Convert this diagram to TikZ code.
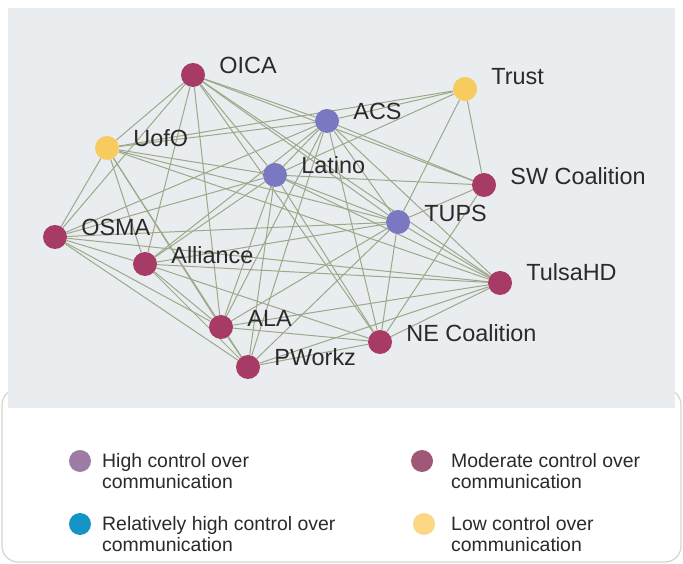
\documentclass[tikz,border=0pt]{standalone}
\usepackage{fontspec}
\setmainfont{Liberation Sans}
\usetikzlibrary{positioning}
\definecolor{bggrey}{HTML}{E9EDF0}
\definecolor{edgegreen}{HTML}{9DA889}
\definecolor{boxgrey}{HTML}{D3D6CE}
\definecolor{labelgrey}{HTML}{2A2A2A}
\definecolor{highctl}{HTML}{7A78C0}
\definecolor{modctl}{HTML}{A83A66}
\definecolor{lowctl}{HTML}{F8CB5E}
\definecolor{keyhigh}{HTML}{9C7BA5}
\definecolor{keymod}{HTML}{A15776}
\definecolor{keyrel}{HTML}{1594C7}
\definecolor{keylow}{HTML}{FDD785}
\pgfdeclarelayer{edges}
\pgfsetlayers{edges,main}
\tikzset{
  actor/.style={circle,minimum size=24bp,inner sep=0pt,draw=none,fill=#1},
  lbl/.style={font=\fontsize{23.5}{25}\selectfont,text=labelgrey,inner sep=0pt},
  tie/.style={edgegreen,line width=1bp},
  keydot/.style={circle,minimum size=22bp,inner sep=0pt,draw=none,fill=#1},
  keytext/.style={font=\fontsize{19.5}{21}\selectfont,text=labelgrey,align=left,inner sep=0pt,anchor=west},
}
\begin{document}
\begin{tikzpicture}[line join=bevel,label distance=14bp]
\useasboundingbox (0bp,0bp) rectangle (683bp,564bp);
%%
\node (oica) at (193bp,489bp) [actor=modctl,label={[lbl,yshift=10bp]east:OICA}] {};
  \node (trust) at (465bp,475bp) [actor=lowctl,label={[lbl,yshift=12bp]east:Trust}] {};
  \node (acs) at (327bp,443bp) [actor=highctl,label={[lbl,yshift=10bp]east:ACS}] {};
  \node (uofo) at (107bp,416bp) [actor=lowctl,label={[lbl,yshift=10bp]east:UofO}] {};
  \node (latino) at (275bp,389bp) [actor=highctl,label={[lbl,yshift=10bp]east:Latino}] {};
  \node (swc) at (484bp,379bp) [actor=modctl,label={[lbl,yshift=9bp]east:SW Coalition}] {};
  \node (tups) at (398bp,342bp) [actor=highctl,label={[lbl,yshift=9bp]east:TUPS}] {};
  \node (osma) at (55bp,327bp) [actor=modctl,label={[lbl,yshift=10bp]east:OSMA}] {};
  \node (alliance) at (145bp,300bp) [actor=modctl,label={[lbl,yshift=9bp]east:Alliance}] {};
  \node (tulsahd) at (500bp,281bp) [actor=modctl,label={[lbl,yshift=11bp]east:TulsaHD}] {};
  \node (ala) at (221bp,237bp) [actor=modctl,label={[lbl,yshift=9bp]east:ALA}] {};
  \node (nec) at (380bp,222bp) [actor=modctl,label={[lbl,yshift=9bp]east:NE Coalition}] {};
  \node (pworkz) at (248bp,197bp) [actor=modctl,label={[lbl,yshift=10bp]east:PWorkz}] {};
%
\begin{pgfonlayer}{edges}
  \draw [boxgrey,fill=white,line width=1.2bp,rounded corners=16bp] (2bp,2bp) rectangle (681bp,175bp);
  \fill [bggrey] (8bp,156bp) rectangle (675bp,556bp);
  \draw [tie] (oica) -- (uofo);
  \draw [tie] (oica) -- (osma);
  \draw [tie] (oica) -- (alliance);
  \draw [tie] (oica) -- (ala);
  \draw [tie] (oica) -- (latino);
  \draw [tie] (oica) -- (acs);
  \draw [tie] (oica) -- (tups);
  \draw [tie] (oica) -- (swc);
  \draw [tie] (oica) -- (nec);
  \draw [tie] (oica) -- (tulsahd);
  \draw [tie] (trust) -- (acs);
  \draw [tie] (trust) -- (latino);
  \draw [tie] (trust) -- (uofo);
  \draw [tie] (trust) -- (swc);
  \draw [tie] (trust) -- (tups);
  \draw [tie] (acs) -- (uofo);
  \draw [tie] (acs) -- (latino);
  \draw [tie] (acs) -- (swc);
  \draw [tie] (acs) -- (tups);
  \draw [tie] (acs) -- (osma);
  \draw [tie] (acs) -- (alliance);
  \draw [tie] (acs) -- (ala);
  \draw [tie] (acs) -- (nec);
  \draw [tie] (acs) -- (tulsahd);
  \draw [tie] (acs) -- (pworkz);
  \draw [tie] (uofo) -- (latino);
  \draw [tie] (uofo) -- (tups);
  \draw [tie] (uofo) -- (osma);
  \draw [tie] (uofo) -- (alliance);
  \draw [tie] (uofo) -- (ala);
  \draw [tie] (uofo) -- (pworkz);
  \draw [tie] (uofo) -- (tulsahd);
  \draw [tie] (latino) -- (swc);
  \draw [tie] (latino) -- (tups);
  \draw [tie] (latino) -- (osma);
  \draw [tie] (latino) -- (alliance);
  \draw [tie] (latino) -- (ala);
  \draw [tie] (latino) -- (pworkz);
  \draw [tie] (latino) -- (nec);
  \draw [tie] (latino) -- (tulsahd);
  \draw [tie] (swc) -- (tups);
  \draw [tie] (swc) -- (nec);
  \draw [tie] (tups) -- (osma);
  \draw [tie] (tups) -- (alliance);
  \draw [tie] (tups) -- (ala);
  \draw [tie] (tups) -- (pworkz);
  \draw [tie] (tups) -- (nec);
  \draw [tie] (tups) -- (tulsahd);
  \draw [tie] (osma) -- (alliance);
  \draw [tie] (osma) -- (ala);
  \draw [tie] (osma) -- (pworkz);
  \draw [tie] (osma) -- (tulsahd);
  \draw [tie] (alliance) -- (ala);
  \draw [tie] (alliance) -- (pworkz);
  \draw [tie] (alliance) -- (nec);
  \draw [tie] (alliance) -- (tulsahd);
  \draw [tie] (ala) -- (pworkz);
  \draw [tie] (ala) -- (nec);
  \draw [tie] (ala) -- (tulsahd);
  \draw [tie] (pworkz) -- (nec);
  \draw [tie] (pworkz) -- (tulsahd);
  \draw [tie] (nec) -- (tulsahd);
\end{pgfonlayer}
%% key
\node (dothigh) at (80bp,103bp) [keydot=keyhigh] {};
  \node (txthigh) at (102bp,93bp) [keytext] {High control over\\communication};
  \node (dotmod) at (422bp,103bp) [keydot=keymod] {};
  \node (txtmod) at (451bp,93bp) [keytext] {Moderate control over\\communication};
  \node (dotrel) at (80bp,40bp) [keydot=keyrel] {};
  \node (txtrel) at (102bp,30bp) [keytext] {Relatively high control over\\communication};
  \node (dotlow) at (424bp,40bp) [keydot=keylow] {};
  \node (txtlow) at (451bp,30bp) [keytext] {Low control over\\communication};
%
\end{tikzpicture}
\end{document}
